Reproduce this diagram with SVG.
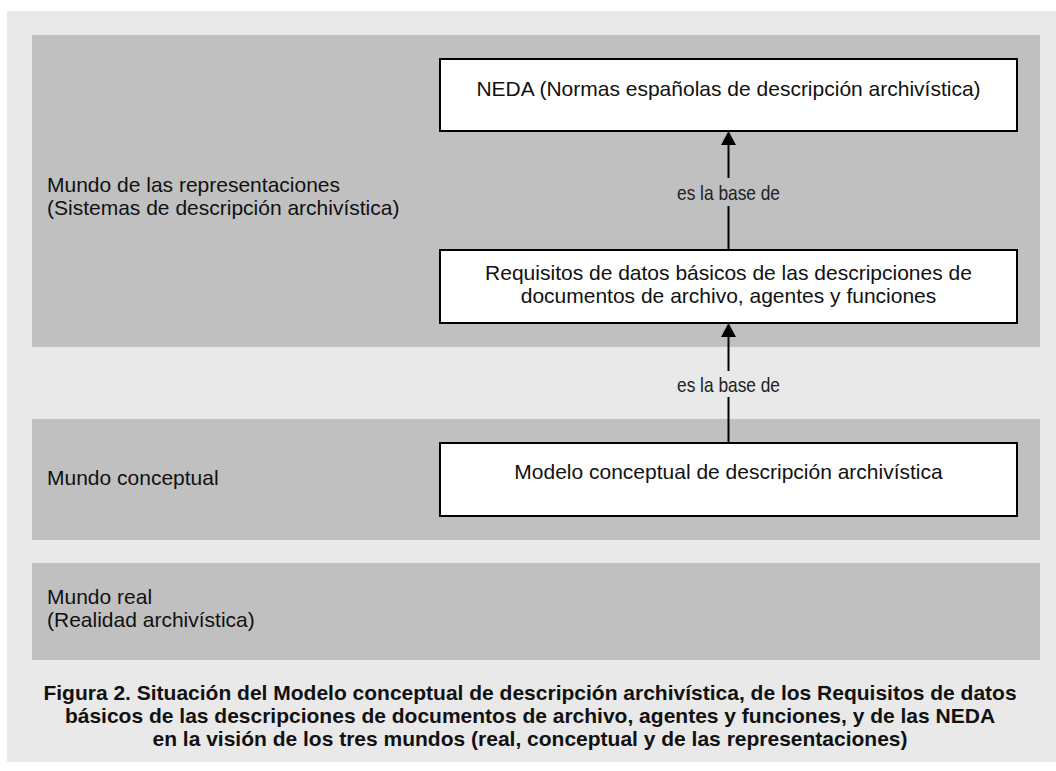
<svg xmlns="http://www.w3.org/2000/svg" width="1056" height="771" viewBox="0 0 1056 771">
  <style>
    .outer { fill: #e9e9e9; }
    .band { fill: #c0c0c0; }
    .box { fill: #ffffff; stroke: #000000; stroke-width: 2; }
    .t { font-family: "Liberation Sans", Arial, sans-serif; font-size: 21px; fill: #111111; }
    .c { text-anchor: middle; }
    .lbl { font-family: "Liberation Sans Narrow", "Liberation Sans", Arial, sans-serif; font-size: 21px; fill: #222222; text-anchor: middle; }
    .cap { font-family: "Liberation Sans", Arial, sans-serif; font-size: 21px; font-weight: bold; fill: #111111; text-anchor: middle; }
    .conn { fill: none; stroke: #000000; stroke-width: 2; }
  </style>
  <defs>
    <marker id="arrow" markerUnits="userSpaceOnUse" viewBox="0 0 14 15" refX="0" refY="7.5" markerWidth="14" markerHeight="15" orient="auto">
      <path d="M0,0 L14,7.5 L0,15 z" fill="#000000"/>
    </marker>
  </defs>

  <rect class="outer" x="7" y="11" width="1049" height="751"/>

  <g id="mundo-representaciones">
    <rect class="band" x="32" y="35" width="1008" height="312"/>
    <text class="t" x="47" y="192">Mundo de las representaciones</text>
    <text class="t" x="47" y="215">(Sistemas de descripción archivística)</text>
  </g>

  <g id="mundo-conceptual">
    <rect class="band" x="32" y="419" width="1008" height="121"/>
    <text class="t" x="47" y="485">Mundo conceptual</text>
  </g>

  <g id="mundo-real">
    <rect class="band" x="32" y="563" width="1008" height="97"/>
    <text class="t" x="47" y="604">Mundo real</text>
    <text class="t" x="47" y="627">(Realidad archivística)</text>
  </g>

  <g id="neda">
    <rect class="box" x="440" y="59" width="577" height="72"/>
    <text class="t c" x="728.5" y="96">NEDA (Normas españolas de descripción archivística)</text>
  </g>

  <g id="requisitos">
    <rect class="box" x="440" y="250" width="577" height="73"/>
    <text class="t c" x="728.5" y="280">Requisitos de datos básicos de las descripciones de</text>
    <text class="t c" x="728.5" y="303">documentos de archivo, agentes y funciones</text>
  </g>

  <g id="modelo">
    <rect class="box" x="440" y="443" width="577" height="73"/>
    <text class="t c" x="728.5" y="479">Modelo conceptual de descripción archivística</text>
  </g>

  <g id="connectors">
    <path class="conn" d="M728.5,250 V206 M728.5,178 V145" marker-end="url(#arrow)"/>
    <text class="lbl" x="728.5" y="199.5" textLength="103" lengthAdjust="spacingAndGlyphs">es la base de</text>
    <path class="conn" d="M728.5,443 V397 M728.5,371 V337" marker-end="url(#arrow)"/>
    <text class="lbl" x="728.5" y="391.5" textLength="103" lengthAdjust="spacingAndGlyphs">es la base de</text>
  </g>

  <g id="caption">
    <text class="cap" x="530" y="700">Figura 2. Situación del Modelo conceptual de descripción archivística, de los Requisitos de datos</text>
    <text class="cap" x="530" y="723">básicos de las descripciones de documentos de archivo, agentes y funciones, y de las NEDA</text>
    <text class="cap" x="530" y="746">en la visión de los tres mundos (real, conceptual y de las representaciones)</text>
  </g>
</svg>
